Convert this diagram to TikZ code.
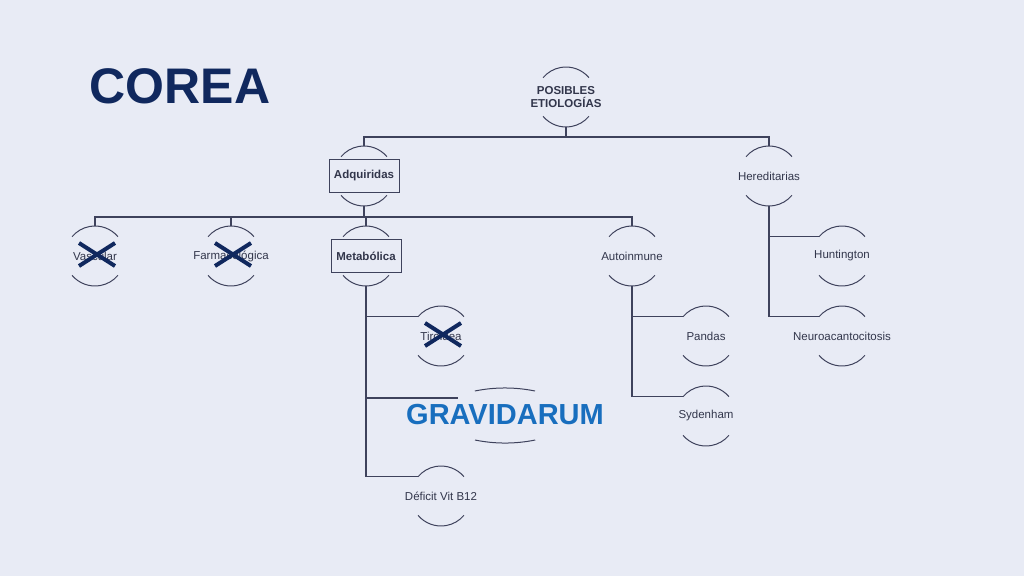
\documentclass[tikz,border=0pt]{standalone}
\usepackage{fontspec}
\setmainfont{Liberation Sans}
\usetikzlibrary{positioning}
\definecolor{bgcol}{RGB}{232,235,245}
\definecolor{linecol}{RGB}{62,66,92}
\definecolor{txtcol}{RGB}{50,54,75}
\definecolor{navy}{RGB}{16,40,94}
\definecolor{gravblue}{RGB}{24,110,190}

\begin{document}
\begin{tikzpicture}[x=1pt, y=1pt,
  item/.style={circle, minimum size=60pt, inner sep=0pt, outer sep=0pt},
  lbl/.style={font=\fontsize{11.5}{13}\selectfont, text=txtcol},
  boldlbl/.style={font=\fontsize{11.5}{12.5}\selectfont\bfseries, text=txtcol, align=center},
  boxed/.style={boldlbl, draw=linecol, line width=0.9pt, minimum width=70pt, minimum height=33pt},
  link/.style={draw=linecol, line width=1.1pt},
  cross/.style={draw=navy, line width=4pt}]

  % Background and page size
  \fill[bgcol] (0,0) rectangle (1024,-576);

  % Title
  \node[font=\fontsize{50}{56}\selectfont\bfseries, text=navy] (title) at (180,-86) {COREA};

  % Define coordinates for nodes
  \node[item, label={[boldlbl]center:{POSIBLES\\ETIOLOGÍAS}}] (root) at (566,-97) {};
  \node[item, label={[boxed]center:Adquiridas}] (adq) at (364,-176) {};
  \node[item, label={[lbl]center:Hereditarias}] (hered) at (769,-176) {};
  \node[item, label={[lbl]center:Vascular}] (vasc) at (95,-256) {};
  \node[item, label={[lbl]center:Farmacológica}] (farm) at (231,-256) {};
  \node[item, label={[boxed]center:Metabólica}] (metab) at (366,-256) {};
  \node[item, label={[lbl]center:Autoinmune}] (auto) at (632,-256) {};
  \node[item, label={[lbl]center:Tiroidea}] (tiro) at (441,-336) {};
  \node[item, label={[lbl]center:Déficit Vit B12}] (vitb) at (441,-496) {};
  \node[item, label={[lbl]center:Pandas}] (pandas) at (706,-336) {};
  \node[item, label={[lbl]center:Sydenham}] (syden) at (706,-416) {};
  \node[item, label={[lbl]center:Huntington}] (hunt) at (842,-256) {};
  \node[item, label={[lbl]center:Neuroacantocitosis}] (neuro) at (842,-336) {};
  \node[font=\fontsize{29}{32}\selectfont\bfseries, text=gravblue] (grav) at (505,-415) {GRAVIDARUM};
  \coordinate (gravin) at (458,-398);

  % Arcs above and below each item
  \foreach \n in {root,adq,hered,vasc,farm,metab,auto,tiro,vitb,pandas,syden,hunt,neuro} {
    \draw[linecol, line width=1pt] (\n.40) arc[start angle=40, end angle=140, radius=30pt];
    \draw[linecol, line width=1pt] (\n.220) arc[start angle=220, end angle=320, radius=30pt];
  }
  \draw[linecol, line width=1pt] ([shift={(30,24)}]grav.center) arc[start angle=78.5, end angle=101.5, radius=151pt];
  \draw[linecol, line width=1pt] ([shift={(-30,-25)}]grav.center) arc[start angle=258.5, end angle=281.5, radius=151pt];

  % Draw connectors between nodes
  \draw[link] (root.south) -- ++(0,-10) coordinate (topbus) -| (adq.north);
  \draw[link] (topbus) -| (hered.north);
  \draw[link] (adq.south) -- ++(0,-11) coordinate (adqbus);
  \foreach \n in {vasc,farm,metab,auto}
    \draw[link] (adqbus) -| (\n.north);
  \foreach \n in {tiro,vitb}
    \draw[link] (metab.south) |- (\n.140);
  \draw[link] (metab.south) |- (gravin);
  \foreach \n in {pandas,syden}
    \draw[link] (auto.south) |- (\n.140);
  \foreach \n in {hunt,neuro}
    \draw[link] (hered.south) |- (\n.140);

  % Crossed-out items
  \foreach \n in {vasc,farm,tiro} {
    \draw[cross] ([shift={(-16,13)}]\n.center) -- ([shift={(20,-10)}]\n.center);
    \draw[cross] ([shift={(-16,-10)}]\n.center) -- ([shift={(20,13)}]\n.center);
  }
\end{tikzpicture}
\end{document}
